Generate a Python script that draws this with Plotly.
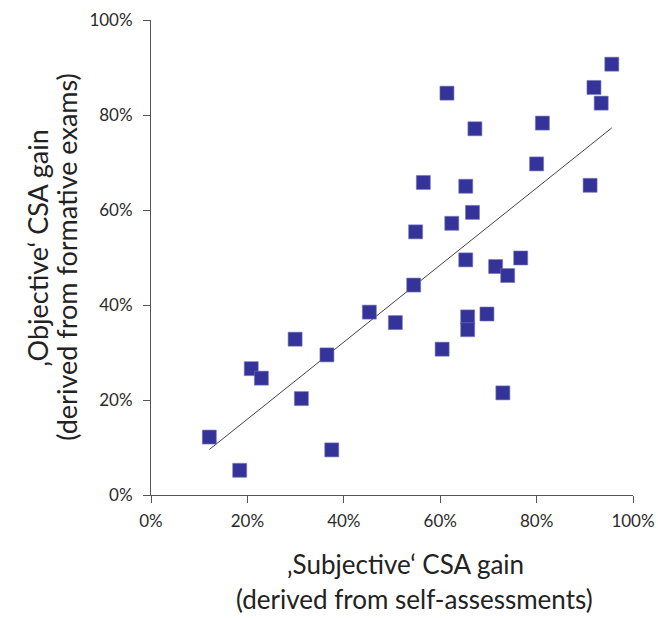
import numpy as np
import plotly.graph_objects as go

# 'Subjective' CSA gain (%), 'Objective' CSA gain (%)
subjective = [95.6, 91.9, 93.4, 61.4, 67.2, 81.2, 80.0, 56.5, 65.3, 91.1,
              66.7, 62.4, 54.9, 65.3, 76.7, 71.5, 74.0, 54.5, 50.7, 65.7,
              65.7, 69.7, 60.4, 73.0, 45.3, 29.9, 36.5, 20.8, 22.9, 31.2,
              12.1, 37.5, 18.4]
objective = [90.7, 85.8, 82.5, 84.6, 77.1, 78.3, 69.7, 65.8, 65.0, 65.2,
             59.5, 57.2, 55.4, 49.5, 49.9, 48.1, 46.2, 44.2, 36.3, 37.5,
             34.8, 38.1, 30.7, 21.5, 38.5, 32.8, 29.5, 26.6, 24.6, 20.3,
             12.2, 9.5, 5.2]
tick_vals = [0, 20, 40, 60, 80, 100]
tick_text = ["0%", "20%", "40%", "60%", "80%", "100%"]

x = np.array(subjective) / 100
y = np.array(objective) / 100
slope, intercept = np.polyfit(x, y, 1)
tx = np.array([x.min(), x.max()])
ty = slope * tx + intercept

FONT = "Lato"
fig = go.Figure()
fig.add_trace(go.Scatter(x=tx, y=ty, mode="lines",
                         line=dict(color="#444444", width=1), hoverinfo="skip"))
fig.add_trace(go.Scatter(x=x, y=y, mode="markers",
                         marker=dict(symbol="square", size=14, color="#333399",
                                     line=dict(color="#7777bb", width=0.6))))

axis_common = dict(range=[0, 1], tickvals=[v / 100 for v in tick_vals], ticktext=tick_text,
                   showgrid=False, zeroline=False, showline=True, linecolor="#555555",
                   linewidth=1, ticks="outside", ticklen=7, tickcolor="#555555",
                   automargin=False,
                   tickfont=dict(family=FONT, size=17, color="#2a2a2a"))
fig.update_xaxes(**axis_common, ticklabelstandoff=4)
fig.update_yaxes(**axis_common, ticklabelstandoff=7)

title_font = dict(family=FONT, size=26, color="#222222")
ytitle_font = dict(family=FONT, size=27, color="#222222")
fig.update_layout(
    width=658, height=618, showlegend=False,
    margin=dict(l=151, r=25, t=20, b=122.5),
    plot_bgcolor="white", paper_bgcolor="white",
    annotations=[
        dict(text="‚Subjective‘ CSA gain", xref="paper", yref="paper", x=0.528, y=-0.146,
             showarrow=False, font=title_font, xanchor="center", yanchor="middle"),
        dict(text="(derived from self-assessments)", xref="paper", yref="paper", x=0.546, y=-0.218,
             showarrow=False, font=title_font, xanchor="center", yanchor="middle"),
        dict(text="‚Objective‘ CSA gain", xref="paper", yref="paper", x=-0.237, y=0.52,
             showarrow=False, font=ytitle_font, textangle=-90, xanchor="center", yanchor="middle"),
        dict(text="(derived from formative exams)", xref="paper", yref="paper", x=-0.176, y=0.502,
             showarrow=False, font=ytitle_font, textangle=-90, xanchor="center", yanchor="middle"),
    ],
)
fig.write_html("out.html")
